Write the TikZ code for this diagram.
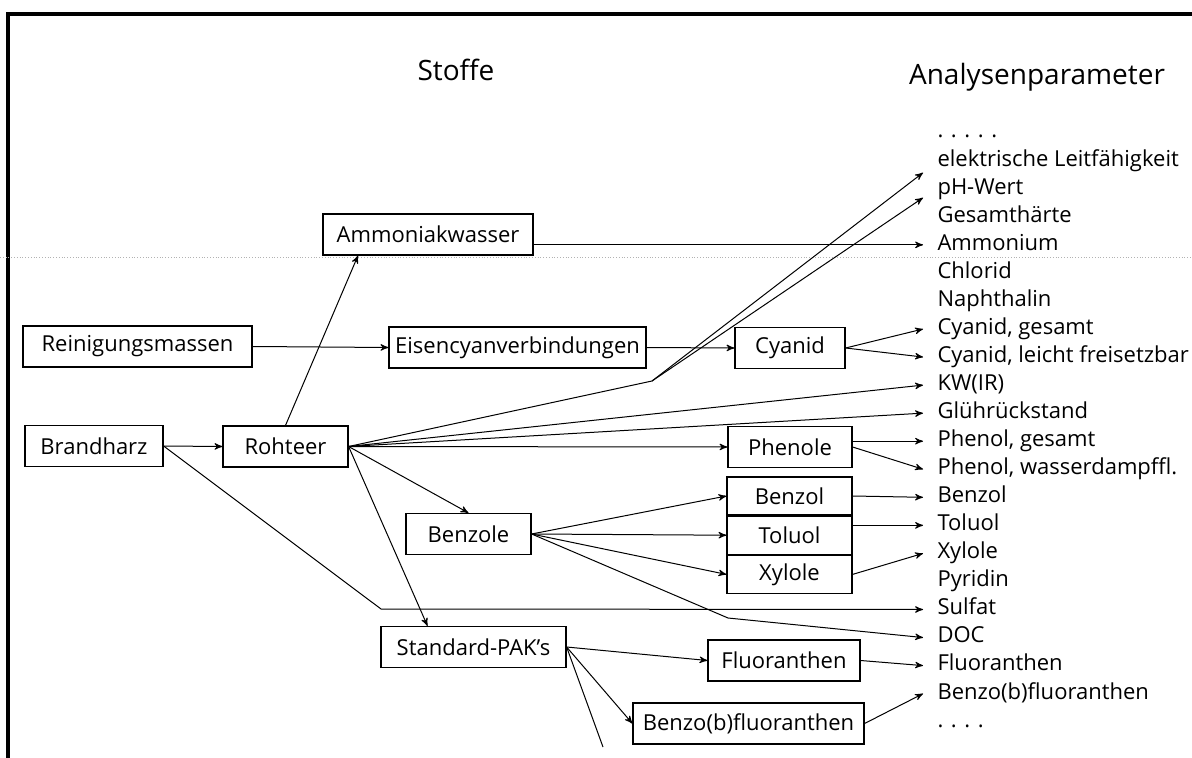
\documentclass[tikz,border=0pt]{standalone}
\usepackage{fontspec}
\setmainfont{Open Sans}
\usetikzlibrary{arrows,positioning}

\begin{document}
\begin{tikzpicture}[x=0.5pt,y=-0.5pt,>=stealth',line width=0.5pt,
stoff/.style={draw,line width=0.6pt,minimum height=20.5pt,inner sep=0pt,
    font=\fontsize{11}{13}\selectfont},
param/.style={anchor=base west,inner xsep=7pt,inner ysep=0pt,
    font=\fontsize{11}{13}\selectfont},
titel/.style={anchor=base,font=\fontsize{14}{16}\selectfont}]

\useasboundingbox (0,0) rectangle (1192,758);
\draw[line width=2pt] (8,758) -- (8,14) -- (1192,14);
\draw[gray!60,densely dotted,line width=0.4pt] (0,257) -- (1192,257);

\node[titel] (stoffe) at (456,81) {Stoffe};
\node[titel] (analyse) at (1037,85) {Analysenparameter};

% Stoffe
\node[stoff,minimum width=105pt] (amm) at (428,234.5) {Ammoniakwasser};
\node[stoff,minimum width=114.5pt] (rein) at (137.5,346.5) {Reinigungsmassen};
\node[stoff,minimum width=128.5pt] (eisen) at (517.5,347.5) {Eisencyanverbindungen};
\node[stoff,minimum width=55pt] (cyanid) at (790,348) {Cyanid};
\node[stoff,minimum width=69pt] (brand) at (94,446) {Brandharz};
\node[stoff,minimum width=62.5pt] (roh) at (285.5,446.5) {Rohteer};
\node[stoff,minimum width=62pt] (phenole) at (790,447) {Phenole};
\node[stoff,minimum width=62.5pt,minimum height=19pt] (benzol) at (789.5,496) {Benzol};
\node[stoff,minimum width=62.5pt,minimum height=19pt] (toluol) [below=0pt of benzol] {Toluol};
\node[stoff,minimum width=62.5pt,minimum height=19pt] (xylole) [below=0pt of toluol] {Xylole};
\node[stoff,minimum width=62.5pt] (benzole) at (468.5,534) {Benzole};
\node[stoff,minimum width=92.5pt] (pak) at (473.5,647) {Standard-PAK's};
\node[stoff,minimum width=76pt] (fluor) at (784,660.5) {Fluoranthen};
\node[stoff,minimum width=115.5pt] (benzob) at (748.5,723.5) {Benzo(b)fluoranthen};

% Analysenparameter
\node[param] (dots1) at (923,138) {. . . . .};
\node[param] (elek) at (923,166.05) {elektrische Leitfähigkeit};
\node[param] (ph) at (923,194.1) {pH-Wert};
\node[param] (haerte) at (923,222.15) {Gesamthärte};
\node[param] (ammon) at (923,250.2) {Ammonium};
\node[param] (chlorid) at (923,278.25) {Chlorid};
\node[param] (naph) at (923,306.3) {Naphthalin};
\node[param] (cyg) at (923,334.35) {Cyanid, gesamt};
\node[param] (cyl) at (923,362.4) {Cyanid, leicht freisetzbar};
\node[param] (kw) at (923,390.45) {KW(IR)};
\node[param] (glueh) at (923,418.5) {Glührückstand};
\node[param] (phg) at (923,446.55) {Phenol, gesamt};
\node[param] (phw) at (923,474.6) {Phenol, wasserdampffl.};
\node[param] (pbenzol) at (923,502.65) {Benzol};
\node[param] (ptoluol) at (923,530.7) {Toluol};
\node[param] (pxylole) at (923,558.75) {Xylole};
\node[param] (pyridin) at (923,586.8) {Pyridin};
\node[param] (sulfat) at (923,614.85) {Sulfat};
\node[param] (doc) at (923,642.9) {DOC};
\node[param] (pfluor) at (923,670.95) {Fluoranthen};
\node[param] (pbenzob) at (923,699) {Benzo(b)fluoranthen};
\node[param] (dots2) at (923,727.05) {. . . .};

\coordinate (knickA) at (652,381);
\coordinate (knickB) at (728,618);
\coordinate (knickC) at (381,609);
\coordinate (pakende) at (603,747);

\path[->]
    (rein.east) edge (eisen.west)
    (eisen.east) edge (cyanid.west)
    (cyanid.east) edge (cyg.mid west)
                  edge (cyl.mid west)
    (amm.east |- ammon.mid west) edge (ammon.mid west)
    (brand.east) edge (roh.west)
    (roh.north) edge ([xshift=-35pt]amm.south)
    (roh.east) edge (kw.mid west)
               edge (glueh.mid west)
               edge (phenole.west)
               edge (benzole.north)
               edge ([xshift=-23pt]pak.north)
    (knickA) edge ([yshift=-6pt]elek.mid west)
             edge ([yshift=-4.5pt]ph.mid west)
    (phenole.east |- phg.mid west) edge (phg.mid west)
    (phenole.east) edge (phw.mid west)
    (benzole.east) edge (benzol.west)
                   edge (toluol.west)
                   edge (xylole.west)
    (benzol.east) edge (pbenzol.mid west)
    (toluol.east |- ptoluol.mid west) edge (ptoluol.mid west)
    (xylole.east) edge (pxylole.mid west)
    (pak.east) edge (fluor.west)
               edge (benzob.west)
    (fluor.east) edge (pfluor.mid west)
    (benzob.east) edge (pbenzob.mid west)
    ;
\draw (roh.east) -- (knickA);
\draw (pak.east) -- (pakende);
\draw[->] (benzole.east) -- (knickB) -- (doc.mid west);
\draw[->] (brand.east) -- (knickC) -- (sulfat.mid west);

\end{tikzpicture}
\end{document}
